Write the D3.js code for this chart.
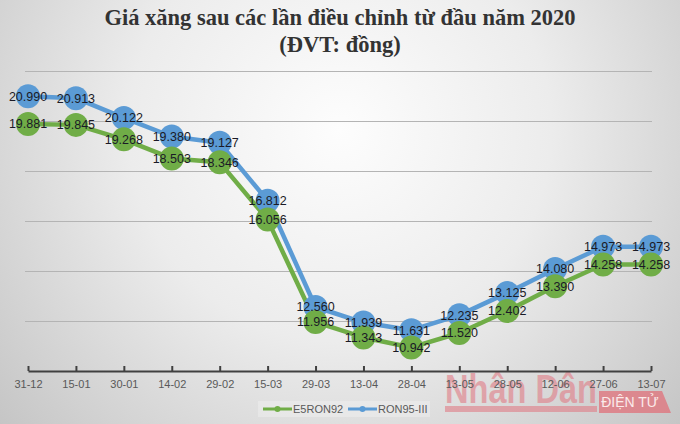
<!DOCTYPE html>
<html><head><meta charset="utf-8">
<script src="https://cdn.jsdelivr.net/npm/d3@7"></script>
<style>html,body{margin:0;padding:0;background:#ddd;}svg{display:block;}</style>
</head><body>
<script>
const dates = ["31-12","15-01","30-01","14-02","29-02","15-03","29-03","13-04","28-04","13-05","28-05","12-06","27-06","13-07"];
const e5ron92 = [19881,19845,19268,18503,18346,16056,11956,11343,10942,11520,12402,13390,14258,14258];
const ron95 = [20990,20913,20122,19380,19127,16812,12560,11939,11631,12235,13125,14080,14973,14973];
const yTicks = [12000,14000,16000,18000,20000,22000];
const seriesNames = ["E5RON92","RON95-III"];
const titleLines = ["Giá xăng sau các lần điều chỉnh từ đầu năm 2020","(ĐVT: đồng)"];

const W = 680, H = 424;
const svg = d3.select("body").append("svg").attr("width", W).attr("height", H);
const defs = svg.append("defs");
const rg = defs.append("radialGradient").attr("id","bg").attr("gradientUnits","userSpaceOnUse")
  .attr("cx",340).attr("cy",130).attr("r",470);
rg.append("stop").attr("offset","0%").attr("stop-color","#fdfdfd");
rg.append("stop").attr("offset","45%").attr("stop-color","#ececec");
rg.append("stop").attr("offset","100%").attr("stop-color","#c2c2c2");
svg.append("rect").attr("width",W).attr("height",H).attr("fill","url(#bg)");

const x = d3.scalePoint().domain(dates).range([28, 651]);
const y = d3.scaleLinear().domain([10000, 22000]).range([371, 71]);
const fmt = d3.formatLocale({decimal:",", thousands:".", grouping:[3], currency:["",""]}).format(",d");

// gridlines
svg.append("g").selectAll("line").data(yTicks).join("line")
  .attr("x1",25).attr("x2",652).attr("y1",d=>y(d)+0.5).attr("y2",d=>y(d)+0.5)
  .attr("stroke","#b4b4b4").attr("stroke-width",1);

// title
svg.append("g").selectAll("text").data(titleLines).join("text")
  .attr("x",340).attr("y",(d,i)=>25+i*27).attr("text-anchor","middle")
  .attr("font-family","'Liberation Serif','Times New Roman',serif").attr("font-weight","bold")
  .attr("font-size",22.5).attr("fill","#333333").text(d=>d);

// watermark (logo)
const wm = svg.append("g");
wm.append("text").attr("x",445).attr("y",403).attr("textLength",152).attr("lengthAdjust","spacingAndGlyphs")
  .attr("font-family","'Liberation Sans Narrow','Liberation Sans',sans-serif").attr("font-weight","bold")
  .attr("font-size",40).attr("fill","#e07c86").attr("opacity",0.6).text("Nhân Dân");
wm.append("rect").attr("x",445).attr("y",406).attr("width",152).attr("height",6).attr("fill","#e07c86").attr("opacity",0.6);
wm.append("path").attr("d","M599,391 L662,391 L671,413 L599,413 Z").attr("fill","#e0707a").attr("opacity",0.75);
wm.append("text").attr("x",630).attr("y",407).attr("text-anchor","middle")
  .attr("font-family","'Liberation Sans',sans-serif").attr("font-size",14).attr("fill","#fbeaea").text("ĐIỆN TỬ");

// axis
const axis = d3.axisBottom(x).tickSize(0).tickPadding(9);
const ag = svg.append("g").attr("transform","translate(0,371)").call(axis);
ag.select(".domain").attr("stroke","#404040").attr("stroke-width",2);
ag.selectAll("text").attr("font-family","'Liberation Sans',Arial,sans-serif").attr("font-size",11).attr("fill","#595959");
ag.selectAll(".tick").append("line").attr("y1",0).attr("y2",-5).attr("stroke","#404040").attr("stroke-width",2);

const line = d3.line().x((d,i)=>x(dates[i])).y(d=>y(d));
const colors = ["#70ad47","#5b9bd5"];
const series = [e5ron92, ron95];

// lines
[1,0].forEach(k=>{
  svg.append("path").datum(series[k]).attr("d",line).attr("fill","none")
    .attr("stroke",colors[k]).attr("stroke-width",4.5).attr("stroke-linejoin","round");
});
// markers
[1,0].forEach(k=>{
  svg.append("g").selectAll("circle").data(series[k]).join("circle")
    .attr("cx",(d,i)=>x(dates[i])).attr("cy",d=>y(d)).attr("r",12).attr("fill",colors[k]);
});
// labels
[1,0].forEach(k=>{
  svg.append("g").selectAll("text").data(series[k]).join("text")
    .attr("x",(d,i)=>x(dates[i])).attr("y",d=>y(d)).attr("dy","0.35em").attr("text-anchor","middle")
    .attr("font-family","'Liberation Sans Narrow','Liberation Sans',Arial,sans-serif")
    .attr("font-size",12.5).attr("fill","#1a1a26").text(d=>fmt(d));
});

// legend
const lg = svg.append("g");
lg.append("rect").attr("x",258).attr("y",401).attr("width",172).attr("height",16).attr("fill","#ffffff").attr("opacity",0.25);
const legX = [263, 348];
seriesNames.forEach((n,k)=>{
  const g = lg.append("g").attr("transform",`translate(${legX[k]},409)`);
  g.append("line").attr("x1",0).attr("x2",29).attr("stroke",colors[k]).attr("stroke-width",3);
  g.append("circle").attr("cx",14.5).attr("r",3).attr("fill",colors[k]);
  g.append("text").attr("x",30).attr("dy","0.35em").attr("font-family","'Liberation Sans',Arial,sans-serif")
    .attr("font-size",11).attr("fill","#595959").text(n);
});
</script>
</body></html>
